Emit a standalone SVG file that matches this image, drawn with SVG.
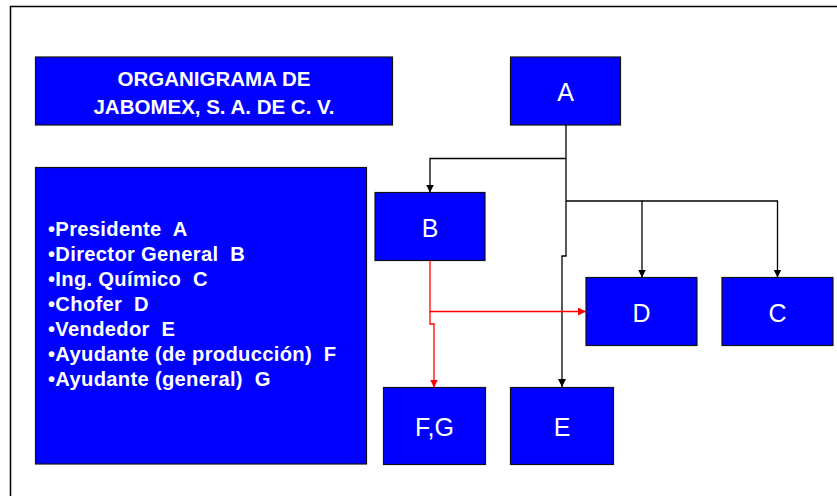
<svg xmlns="http://www.w3.org/2000/svg" width="837" height="496" viewBox="0 0 837 496">
<style>
.box{fill:#0000ff;stroke:#111;stroke-width:1.2}
.lbl{fill:#fff;font-family:"Liberation Sans",Arial,sans-serif;font-size:25px;text-anchor:middle}
.bold{fill:#fff;font-family:"Liberation Sans",Arial,sans-serif;font-weight:bold}
.blk{fill:none;stroke:#000;stroke-width:1.3}
.red{fill:none;stroke:#ff0000;stroke-width:1.3}
</style>
<defs>
<marker id="ab" viewBox="0 0 10 10" refX="10" refY="5" markerWidth="8" markerHeight="8" markerUnits="userSpaceOnUse" orient="auto"><path d="M0,0 L10,5 L0,10 Z" fill="#000"/></marker>
<marker id="ar" viewBox="0 0 10 10" refX="10" refY="5" markerWidth="8" markerHeight="8" markerUnits="userSpaceOnUse" orient="auto"><path d="M0,0 L10,5 L0,10 Z" fill="#ff0000"/></marker>
</defs>
<rect x="0" y="0" width="837" height="496" fill="#fff"/>
<path d="M10.5,500 V6.5 H840" fill="none" stroke="#000" stroke-width="1.5"/>
<g id="title">
<rect class="box" x="35.5" y="57" width="357" height="68"/>
<text class="bold" font-size="20.5" text-anchor="middle"><tspan x="214" y="86">ORGANIGRAMA DE</tspan><tspan x="214" y="114">JABOMEX, S. A. DE C. V.</tspan></text>
</g>
<g id="legend">
<rect class="box" x="35.5" y="167.5" width="331" height="296.5"/>
<text class="bold" font-size="20.2" letter-spacing="0.3">
<tspan x="48" y="236">•Presidente&#160; A</tspan>
<tspan x="48" y="261">•Director General&#160; B</tspan>
<tspan x="48" y="286">•Ing. Químico&#160; C</tspan>
<tspan x="48" y="311">•Chofer&#160; D</tspan>
<tspan x="48" y="336">•Vendedor&#160; E</tspan>
<tspan x="48" y="361">•Ayudante (de producción)&#160; F</tspan>
<tspan x="48" y="386">•Ayudante (general)&#160; G</tspan>
</text>
</g>
<g id="nodeA"><rect class="box" x="510.5" y="57" width="110" height="68"/><text class="lbl" x="565.5" y="101">A</text></g>
<g id="nodeB"><rect class="box" x="375" y="192.5" width="110" height="68"/><text class="lbl" x="430" y="237">B</text></g>
<g id="nodeD"><rect class="box" x="586" y="277.5" width="111" height="68"/><text class="lbl" x="641.5" y="322">D</text></g>
<g id="nodeC"><rect class="box" x="722" y="277.5" width="111" height="68"/><text class="lbl" x="777.5" y="322">C</text></g>
<g id="nodeFG"><rect class="box" x="383.5" y="387.5" width="102" height="77"/><text class="lbl" x="434.5" y="436">F,G</text></g>
<g id="nodeE"><rect class="box" x="510.5" y="387.5" width="103" height="77"/><text class="lbl" x="562" y="436">E</text></g>
<g id="connectors">
<path class="blk" d="M566,125 V256 H562 V387" marker-end="url(#ab)"/>
<path class="blk" d="M566,158.5 H430 V192.5" marker-end="url(#ab)"/>
<path class="blk" d="M566,201 H642 V277.5" marker-end="url(#ab)"/>
<path class="blk" d="M642,201 H777.5 V277.5" marker-end="url(#ab)"/>
<path class="red" d="M430,260.5 V311.5 H586" marker-end="url(#ar)"/>
<path class="red" d="M430,311.5 V324 H434 V387.5" marker-end="url(#ar)"/>
</g>
</svg>
